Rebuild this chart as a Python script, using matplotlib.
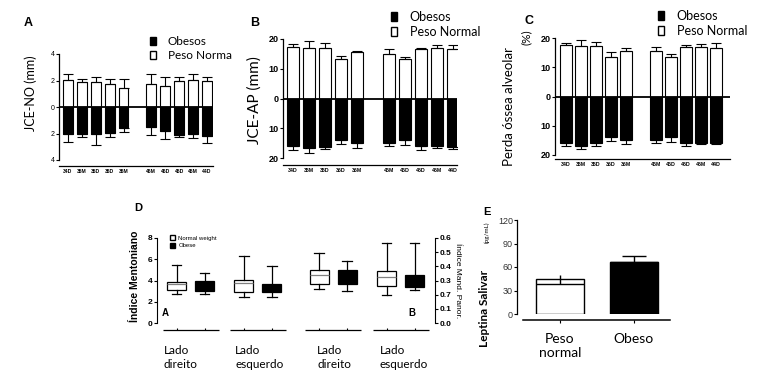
import matplotlib
matplotlib.use("Agg")
import matplotlib.pyplot as plt
from matplotlib.patches import Patch

# ------------------------------------------------------------
# Data
# ------------------------------------------------------------

teeth = ["34D", "35M", "35D", "36D", "36M", "46M", "46D", "45D", "45M", "44D"]
bar_pos = [0, 1, 2, 3, 4, 6, 7, 8, 9, 10]

# Panel A : JCE-NO (mm)
a_normal = [2.05, 1.9, 1.9, 1.7, 1.45, 1.7, 1.6, 2.0, 2.05, 2.0]
a_normal_err = [0.45, 0.2, 0.4, 0.4, 0.65, 0.8, 0.7, 0.3, 0.45, 0.3]
a_obese = [2.0, 2.0, 2.05, 1.95, 1.6, 1.5, 1.8, 2.1, 2.0, 2.2]
a_obese_err = [0.65, 0.3, 0.85, 0.35, 0.3, 0.6, 0.6, 0.2, 0.35, 0.55]

# Panel B : JCE-AP (mm)
b_normal = [17.4, 17.1, 16.9, 13.3, 15.6, 15.0, 13.3, 16.6, 16.9, 16.6]
b_normal_err = [0.8, 2.2, 1.6, 1.1, 0.3, 1.7, 0.8, 0.5, 1.1, 1.4]
b_obese = [15.9, 16.7, 16.2, 13.9, 15.1, 14.8, 14.0, 15.9, 16.1, 16.2]
b_obese_err = [1.3, 1.6, 0.8, 1.4, 1.7, 1.3, 1.6, 1.3, 0.7, 0.8]

# Panel C : Perda ossea alveolar (%)
c_normal = [17.5, 17.4, 17.1, 13.5, 15.7, 15.4, 13.5, 16.8, 16.9, 16.6]
c_normal_err = [0.8, 2.0, 1.4, 1.6, 0.9, 1.4, 1.0, 0.7, 1.2, 1.7]
c_obese = [16.0, 16.8, 16.0, 13.7, 14.9, 14.9, 13.9, 16.0, 16.0, 16.0]
c_obese_err = [0.8, 1.1, 0.8, 1.5, 1.4, 0.9, 1.5, 0.8, 0.2, 0.2]

# Panel D : box plots (left = Indice Mentoniano, right = Indice Mand. Panor.)
d_pos = [0.7, 1.7, 3.1, 4.1, 5.8, 6.8, 8.2, 9.2]
d_med = [3.7, 3.5, 3.75, 3.4, 0.34, 0.33, 0.322, 0.30]
d_q1 = [3.1, 3.05, 2.95, 2.95, 0.275, 0.275, 0.264, 0.254]
d_q3 = [3.9, 4.0, 4.05, 3.7, 0.376, 0.372, 0.365, 0.336]
d_lo = [2.75, 2.75, 2.45, 2.45, 0.242, 0.228, 0.20, 0.235]
d_hi = [5.5, 4.75, 6.3, 5.4, 0.494, 0.44, 0.565, 0.565]
d_groups = ["Lado\ndireito", "Lado\nesquerdo", "Lado\ndireito", "Lado\nesquerdo"]
d_left_ticks = [0, 2, 4, 6, 8]
d_right_ticks = [0.0, 0.1, 0.2, 0.3, 0.4, 0.5, 0.6]
d_right_labels = ["0.0", "0.1", "0.7", "0.3", "0.4", "0.5", "0.6"]

# Panel E : Leptina salivar (pg/mL)
e_groups = ["Peso\nnormal", "Obeso"]
e_mean = [44.7, 66.8]
e_err_low = [6.8, 0.0]
e_err_high = [5.0, 7.2]

# ------------------------------------------------------------
# Figure helpers (pixel layout)
# ------------------------------------------------------------

W, H = 772, 379
plt.rcParams["font.family"] = ["Lato", "DejaVu Sans"]
fig = plt.figure(figsize=(W / 100, H / 100), dpi=100)


def px_axes(x0, y0, x1, y1):
    return fig.add_axes([x0 / W, 1 - y1 / H, (x1 - x0) / W, (y1 - y0) / H])


def ftext(x, y, s, **kw):
    fig.text(x / W, 1 - y / H, s, **kw)


def bar_panel(box, xlim, ylim, yticks, normal, normal_err, obese, obese_err,
              width, offset, ysize, ybold, xsize):
    ax = px_axes(*box)
    neg = [-v for v in obese]
    zeros = [0] * len(bar_pos)
    ax.bar(bar_pos, normal, width, color="white", edgecolor="black", lw=0.8, zorder=2)
    ax.bar(bar_pos, neg, width, color="black", edgecolor="black", lw=0.8, zorder=2)
    ax.errorbar(bar_pos, normal, yerr=[zeros, normal_err], fmt="none", ecolor="black",
                elinewidth=0.8, capsize=3.5, capthick=0.8, zorder=3)
    ax.errorbar(bar_pos, neg, yerr=[obese_err, zeros], fmt="none", ecolor="black",
                elinewidth=0.8, capsize=3.5, capthick=0.8, zorder=3)
    ax.axhline(0, color="black", lw=1.3, zorder=4)
    ax.set_xlim(*xlim)
    ax.set_ylim(*ylim)
    ax.set_yticks(yticks)
    ax.set_yticklabels([str(abs(t)) for t in yticks])
    ax.set_xticks(bar_pos)
    ax.set_xticklabels(teeth)
    for s in ["top", "right"]:
        ax.spines[s].set_visible(False)
    ax.spines["bottom"].set_position(("outward", offset))
    ax.spines["left"].set_linewidth(0.9)
    ax.spines["bottom"].set_linewidth(0.9)
    ax.tick_params(axis="y", length=2, width=0.8, pad=1, labelsize=ysize,
                   labelfontfamily="Liberation Sans")
    ax.tick_params(axis="x", length=0, pad=2, labelsize=xsize,
                   labelfontfamily="Liberation Sans")
    for lbl in ax.get_xticklabels():
        lbl.set_fontweight("bold")
    if ybold:
        for lbl in ax.get_yticklabels():
            lbl.set_fontweight("bold")
    return ax


def bw_legend(ax, x, y, labels, size):
    handles = [Patch(facecolor="black", edgecolor="black"),
               Patch(facecolor="white", edgecolor="black")]
    ax.legend(handles, labels, loc="upper left", bbox_to_anchor=(x / W, 1 - y / H),
              bbox_transform=fig.transFigure, frameon=False, fontsize=size,
              handlelength=0.5, handleheight=0.75, handletextpad=1.0,
              labelspacing=0.25, borderpad=0, borderaxespad=0)


# ------------------------------------------------------------
# Panel A
# ------------------------------------------------------------

ax_a = bar_panel((59, 54, 213, 160), (-0.64, 10.43), (-4, 4), [4, 2, 0, -2, -4],
                 a_normal, a_normal_err, a_obese, a_obese_err,
                 0.71, 4.5, 5, False, 3.6)
bw_legend(ax_a, 150, 36, ["Obesos", "Peso Norma"], 8.5)
ftext(28, 23, "A", fontsize=9, fontweight="bold", ha="center", va="center",
      family="Liberation Sans")
ftext(31, 93, "JCE-NO (mm)", fontsize=9, rotation=90, ha="center", va="center")

# ------------------------------------------------------------
# Panel B
# ------------------------------------------------------------

ax_b = bar_panel((283, 39, 457, 158), (-0.625, 10.25), (-20, 20), [20, 10, 0, -10, -20],
                 b_normal, b_normal_err, b_obese, b_obese_err,
                 0.75, 5, 6.5, True, 3.8)
bw_legend(ax_b, 391, 11, ["Obesos", "Peso Normal"], 9)
ftext(255, 23, "B", fontsize=9, fontweight="bold", ha="center", va="center",
      family="Liberation Sans")
ftext(255, 100, "JCE-AP (mm)", fontsize=11, rotation=90, ha="center", va="center")

# ------------------------------------------------------------
# Panel C
# ------------------------------------------------------------

ax_c = bar_panel((555, 38, 730, 155), (-0.73, 10.93), (-20, 20), [20, 10, 0, -10, -20],
                 c_normal, c_normal_err, c_obese, c_obese_err,
                 0.8, 3, 6.5, True, 3.8)
bw_legend(ax_c, 658, 10, ["Obesos", "Peso Normal"], 9)
ftext(529, 21, "C", fontsize=9, fontweight="bold", ha="center", va="center",
      family="Liberation Sans")
ftext(509, 107, "Perda óssea alveolar", fontsize=9.5, rotation=90, ha="center", va="center")
ftext(526, 37, "(%)", fontsize=8.5, rotation=90, ha="center", va="center")

# ------------------------------------------------------------
# Panel D
# ------------------------------------------------------------

ax_d = px_axes(157, 238, 435, 323)
ax_d2 = ax_d.twinx()
ax_d.set_xlim(0, 9.93)
ax_d.set_ylim(0, 8)
ax_d2.set_ylim(0, 0.6)

colors = ["white", "black"] * 4
stats = []
for i in range(8):
    stats.append({"med": d_med[i], "q1": d_q1[i], "q3": d_q3[i],
                  "whislo": d_lo[i], "whishi": d_hi[i], "fliers": []})

for axis, idx in [(ax_d, [0, 1, 2, 3]), (ax_d2, [4, 5, 6, 7])]:
    parts = axis.bxp([stats[i] for i in idx], positions=[d_pos[i] for i in idx],
                     widths=0.68, patch_artist=True, showfliers=False,
                     capwidths=0.35, manage_ticks=False,
                     boxprops=dict(linewidth=0.9, edgecolor="black"),
                     whiskerprops=dict(linewidth=0.9, color="black"),
                     capprops=dict(linewidth=0.9, color="black"),
                     medianprops=dict(linewidth=0.9))
    for k, i in enumerate(idx):
        parts["boxes"][k].set_facecolor(colors[i])
        parts["medians"][k].set_color("#808080" if colors[i] == "white" else "black")

for ax in (ax_d, ax_d2):
    for s in ["top", "bottom"]:
        ax.spines[s].set_visible(False)
    ax.set_xticks([])
ax_d.spines["right"].set_visible(False)
ax_d2.spines["left"].set_visible(False)

ax_d.set_yticks(d_left_ticks)
ax_d.tick_params(axis="y", length=2, width=0.8, pad=1, labelsize=6,
                 labelfontfamily="Liberation Sans")
ax_d2.set_yticks(d_right_ticks)
ax_d2.set_yticklabels(d_right_labels)
ax_d2.tick_params(axis="y", length=2, width=0.8, pad=1, labelsize=6,
                  labelfontfamily="Liberation Sans")
for lbl in ax_d.get_yticklabels() + ax_d2.get_yticklabels():
    lbl.set_fontweight("bold")

# group underlines with small ticks
trans = ax_d.get_xaxis_transform()
for g in range(4):
    c = (d_pos[2 * g] + d_pos[2 * g + 1]) / 2
    ax_d.hlines(-0.085, c - 1.0, c + 1.0, transform=trans, color="black",
                lw=0.9, clip_on=False)
    ax_d.vlines([d_pos[2 * g], d_pos[2 * g + 1]], -0.085, -0.055, transform=trans,
                color="black", lw=0.8, clip_on=False)

ax_d.legend([Patch(facecolor="white", edgecolor="black"),
             Patch(facecolor="black", edgecolor="black")],
            ["Normal weight", "Obese"], loc="upper left",
            bbox_to_anchor=(170 / W, 1 - 235 / H), bbox_transform=fig.transFigure,
            frameon=False, handlelength=0.9, handleheight=0.9,
            handletextpad=0.5, labelspacing=0.35, borderpad=0, borderaxespad=0,
            prop={"family": "Liberation Sans", "size": 4.3})

ftext(165, 313, "A", fontsize=7, fontweight="bold", ha="center", va="center",
      family="Liberation Sans")
ftext(412, 313, "B", fontsize=7, fontweight="bold", ha="center", va="center",
      family="Liberation Sans")
ftext(138, 208, "D", fontsize=8, fontweight="bold", ha="center", va="center",
      family="Liberation Sans")
ftext(135, 276, "Índice Mentoniano", fontsize=7.5, rotation=90, ha="center",
      va="center", family="Liberation Sans", fontweight="bold")
ftext(457, 281, "Índice Mand. Panor.", fontsize=6, rotation=-90, ha="center",
      va="center", family="Liberation Sans")

for x, label in zip([164, 235, 317, 380], d_groups):
    ftext(x, 345, label, fontsize=8.5, ha="left", va="top", linespacing=1.35)

# ------------------------------------------------------------
# Panel E
# ------------------------------------------------------------

ax_e = px_axes(517, 220, 670, 314)
e_pos = [0, 1]
ax_e.bar(e_pos, e_mean, 0.65, color=["white", "black"], edgecolor="black", lw=1.0, zorder=2)
eb = ax_e.errorbar(e_pos, e_mean, yerr=[e_err_low, e_err_high], fmt="none",
                   ecolor="black", elinewidth=1.0, capsize=17, capthick=1.0, zorder=3)
# only one cap shown per bar
eb[1][1].set_visible(False)
ax_e.plot([e_pos[1]], [e_mean[1] + e_err_high[1]], marker="_", ms=17, mew=1.0,
          color="black", zorder=3)
ax_e.set_xlim(-0.58, 1.49)
ax_e.set_ylim(0, 120)
ax_e.set_yticks([0, 30, 60, 90, 120])
ax_e.set_xticks(e_pos)
ax_e.set_xticklabels(e_groups, fontsize=8, linespacing=1.35)
for lbl in ax_e.get_xticklabels():
    lbl.set_multialignment("left")
for s in ["top", "right"]:
    ax_e.spines[s].set_visible(False)
ax_e.spines["bottom"].set_position(("outward", 4))
ax_e.spines["bottom"].set_bounds(-0.5, 1.49)
ax_e.spines["bottom"].set_linewidth(1.1)
ax_e.spines["left"].set_linewidth(0.9)
ax_e.tick_params(axis="y", length=2, width=0.8, pad=1, labelsize=6.5, labelcolor="#333333",
                 labelfontfamily="Liberation Sans")
ax_e.tick_params(axis="x", length=2, width=0.8, pad=8)

ftext(487, 212, "E", fontsize=8, fontweight="bold", ha="center", va="center",
      family="Liberation Sans")
ftext(485, 308, "Leptina Salivar", fontsize=8.5, fontweight="bold", rotation=90,
      ha="center", va="center")
ftext(487, 232, "(pg/mL)", fontsize=4.5, rotation=90, ha="center", va="center")

fig.savefig("out.png", dpi=100)
